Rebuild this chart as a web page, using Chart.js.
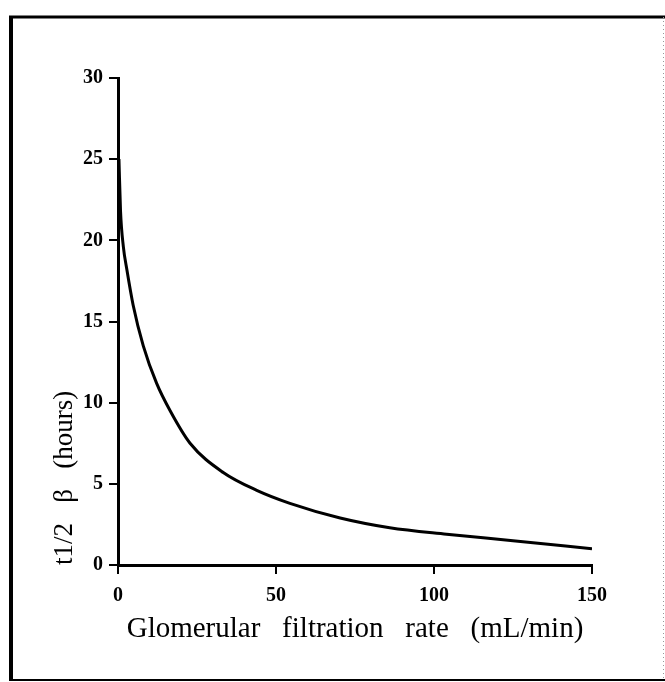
<!DOCTYPE html>
<html>
<head>
<meta charset="utf-8">
<script src="https://cdn.jsdelivr.net/npm/chart.js@4.4.1/dist/chart.umd.min.js"></script>
<style>
  html, body { margin: 0; padding: 0; background: #fff; }
  #wrap { width: 665px; height: 682px; }
</style>
</head>
<body>
<div id="wrap"><canvas id="chart" width="665" height="682"></canvas></div>
<script>
// values
const gfr = [0.3, 0.8, 1.7, 2.8, 4.8, 8, 12.2, 16.5, 22.8, 33.3, 43.9, 54.4, 70.3, 86, 104, 125, 150];
const halfLife = [25, 21.8, 19.6, 18.2, 16.0, 13.5, 11.2, 9.5, 7.5, 5.7, 4.6, 3.8, 2.9, 2.3, 1.9, 1.5, 1.0];
const xTicks = [0, 50, 100, 150];
const yTicks = [0, 5, 10, 15, 20, 25, 30];

// wide word gaps like the scanned label
const xTitle = 'Glomerular   filtration   rate   (mL/min)';
const yTitle = 't1/2   \u03b2   (hours)';

const points = gfr.map((x, i) => ({ x: x, y: halfLife[i] }));

// frame round the figure
const framePlugin = {
  id: 'frame',
  afterDraw(chart) {
    const ctx = chart.ctx;
    ctx.save();
    ctx.strokeStyle = '#000';
    ctx.lineWidth = 3;
    ctx.beginPath();
    ctx.moveTo(9, 17); ctx.lineTo(665, 17);
    ctx.stroke();
    ctx.lineWidth = 4;
    ctx.beginPath();
    ctx.moveTo(11, 16); ctx.lineTo(11, 681);
    ctx.stroke();
    ctx.lineWidth = 2;
    ctx.beginPath();
    ctx.moveTo(11, 680); ctx.lineTo(665, 680);
    ctx.stroke();
    ctx.strokeStyle = '#999';
    ctx.lineWidth = 1;
    ctx.setLineDash([1, 3]);
    ctx.beginPath();
    ctx.moveTo(663.5, 17); ctx.lineTo(663.5, 680);
    ctx.stroke();
    ctx.restore();
  }
};

const ctx = document.getElementById('chart').getContext('2d');
const myChart = new Chart(ctx, {
  type: 'line',
  data: {
    datasets: [{
      label: 't1/2 beta',
      data: points,
      borderColor: '#000',
      borderWidth: 3,
      pointRadius: 0,
      fill: false,
      cubicInterpolationMode: 'monotone'
    }]
  },
  options: {
    responsive: false,
    animation: false,
    layout: { padding: { left: 0, top: 78, right: 73, bottom: 27 } },
    plugins: {
      legend: { display: false },
      tooltip: { enabled: false }
    },
    scales: {
      x: {
        type: 'linear',
        min: 0,
        max: 150,
        afterBuildTicks: (scale) => { scale.ticks = xTicks.map(v => ({ value: v })); },
        afterFit: (scale) => { scale.height = 90; },
        border: { display: true, color: '#000', width: 3 },
        grid: { display: true, drawOnChartArea: false, drawTicks: true, tickLength: 9, color: '#000', lineWidth: 2 },
        ticks: {
          color: '#000',
          padding: 10,
          maxRotation: 0,
          font: { family: '"Liberation Serif", serif', size: 20, weight: 'bold' }
        },
        title: {
          display: true,
          text: xTitle,
          color: '#000',
          padding: { top: 0, bottom: 8 },
          font: { family: '"Liberation Serif", serif', size: 29 }
        }
      },
      y: {
        min: 0,
        max: 30,
        afterBuildTicks: (scale) => { scale.ticks = yTicks.map(v => ({ value: v })); },
        afterFit: (scale) => { scale.width = 118; },
        border: { display: true, color: '#000', width: 3 },
        grid: { display: true, drawOnChartArea: false, drawTicks: true, tickLength: 9, color: '#000', lineWidth: 2 },
        ticks: {
          color: '#000',
          padding: 6,
          font: { family: '"Liberation Serif", serif', size: 20, weight: 'bold' }
        },
        title: {
          display: true,
          text: yTitle,
          align: 'start',
          color: '#000',
          padding: { top: 49, bottom: 0 },
          font: { family: '"Liberation Serif", serif', size: 27 }
        }
      }
    }
  },
  plugins: [framePlugin]
});
</script>
</body>
</html>
